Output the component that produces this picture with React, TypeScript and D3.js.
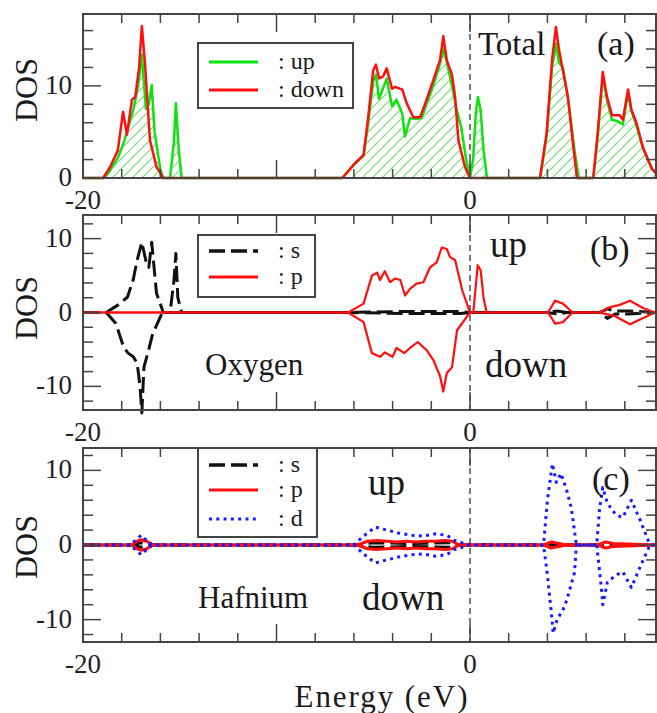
import { useEffect, useRef } from 'react'
import * as d3 from 'd3'

// ---- panel (a): total DOS ----
const totUpE = [-20, -18.9, -18.6, -18.2, -17.9, -17.4, -17.15, -16.96, -16.75, -16.6, -16.45, -16.3, -16.0, -15.85, -15.5, -15.3, -15.2, -15.05, -14.9, -6.6, -6.0, -5.5, -5.26, -5.0, -4.86, -4.7, -4.45, -4.3, -4.03, -3.8, -3.5, -3.36, -3.1, -2.8, -2.5, -2.2, -1.9, -1.55, -1.38, -1.2, -0.93, -0.7, -0.45, -0.2, 0, 0.16, 0.3, 0.41, 0.55, 0.7, 0.88, 3.62, 3.96, 4.24, 4.44, 4.6, 4.8, 5.0, 5.2, 5.4, 5.62, 6.37, 6.6, 6.86, 7.08, 7.34, 7.6, 7.9, 8.17, 8.34, 8.6, 8.94, 9.4, 9.7]
const totUpV = [0, 0, 0.8, 2.2, 3.8, 7.4, 10, 13.4, 7.5, 8, 10.1, 5, 0.9, 0, 0, 4, 8.1, 3, 0, 0, 1.5, 2.4, 6, 10.5, 11.2, 8.6, 10, 10.8, 7.8, 8.5, 7, 4.5, 6.5, 6.4, 6.5, 8.3, 10, 12.4, 14, 12.6, 10, 7.5, 5.5, 2, 0, 2, 7, 8.8, 7.4, 3, 0, 0, 4.5, 12, 14.6, 12.5, 12, 9.5, 6.5, 3, 0, 0, 4.5, 11, 8.5, 6.3, 6.2, 5.8, 9.3, 7.3, 5.7, 3.2, 1.0, 0.3]
const totDnE = [-20, -18.96, -18.6, -18.2, -17.93, -17.73, -17.47, -17.3, -17.1, -16.96, -16.8, -16.54, -16.2, -15.85, -6.6, -5.94, -5.5, -5.26, -5.0, -4.86, -4.7, -4.5, -4.3, -4.03, -3.86, -3.5, -3.27, -2.93, -2.58, -2.24, -1.9, -1.55, -1.38, -1.2, -0.93, -0.77, -0.6, -0.26, 0, 3.62, 3.96, 4.24, 4.44, 4.6, 4.8, 5.06, 5.3, 5.53, 6.37, 6.6, 6.86, 7.08, 7.34, 7.75, 7.9, 8.17, 8.34, 8.6, 8.94, 9.4, 9.7]
const totDnV = [0, 0, 1.2, 3, 7.2, 4.7, 8.5, 8.8, 12, 16.5, 12.5, 4.1, 1.2, 0, 0, 1.6, 2.5, 6.6, 11.7, 12.3, 10.8, 11, 11.9, 9.7, 9.9, 9.6, 8.1, 6.6, 6.6, 8.5, 10.6, 12.8, 15.4, 12.8, 11.2, 8.8, 4.1, 1.2, 0, 0, 4.9, 12.8, 16.4, 13.9, 11.7, 8.8, 4.1, 0, 0, 4.9, 11.5, 8.8, 6.8, 6.8, 6.3, 9.6, 7.4, 6.0, 3.3, 1.0, 0.3]

// ---- panel (b): oxygen ----
const oxSUpE = [-20, -18.8, -18.2, -17.7, -17.4, -17.2, -16.96, -16.75, -16.6, -16.45, -16.2, -15.85, -15.5, -15.3, -15.2, -15.1, -14.9, -6.5, -3, -0.5, 0, 4, 4.5, 5, 6.7, 7.1, 7.5, 8.2, 9.7]
const oxSUpV = [0, 0, 1.0, 2.1, 4.5, 7.1, 9.5, 7, 6.1, 9.5, 2.6, 0, 0, 4.3, 8, 2, 0, 0, 0.15, 0.15, 0, 0, 0.2, 0, 0, 0.5, 0.2, 0.2, 0]
const oxSDnE = [-20, -18.8, -18.3, -17.9, -17.67, -17.4, -17.2, -17.05, -16.96, -16.85, -16.6, -16.4, -15.9, -6.5, -3, -0.5, 0, 4, 4.5, 5, 6.7, 7.1, 7.5, 8.2, 9.7]
const oxSDnV = [0, 0, -1.5, -4.7, -5.5, -6, -6.9, -10, -13.6, -7.4, -5, -2.9, 0, 0, -0.15, -0.15, 0, 0, -0.2, 0, 0, -0.8, -0.2, -0.2, 0]
const oxPUpE = [-20, -6.3, -5.5, -5.07, -4.8, -4.65, -4.4, -4.13, -3.88, -3.6, -3.36, -3.1, -2.76, -2.41, -2.07, -1.72, -1.46, -1.2, -1.03, -0.77, -0.4, 0, 0.17, 0.4, 0.55, 0.7, 0.86, 4.03, 4.4, 4.8, 5.3, 6.7, 7.2, 7.7, 8.27, 8.94, 9.55, 9.7]
const oxPUpV = [0, 0, 1.2, 5, 5.4, 4.4, 5.6, 4.1, 4.6, 4.4, 2.3, 3.2, 3.9, 4.1, 6.1, 6.8, 8.8, 8.6, 7.5, 7.1, 3, 0, 0, 6.4, 5.7, 2, 0, 0, 1.6, 1.2, 0, 0, 0.7, 1.0, 1.6, 0.6, 0, 0]
const oxPDnE = [-20, -6.3, -5.5, -5.07, -4.65, -4.4, -4.0, -3.8, -3.4, -3.1, -2.7, -2.24, -1.9, -1.55, -1.38, -1.2, -0.93, -0.67, 0, 4.03, 4.4, 4.8, 5.3, 6.7, 7.5, 8.27, 8.9, 9.55, 9.7]
const oxPDnV = [0, 0, -1.3, -5.5, -6, -5.4, -6, -4.8, -5.5, -4.8, -4, -5.1, -6.4, -8.6, -10.7, -8.2, -7.4, -2.4, 0, 0, -1.5, -1.3, 0, 0, -0.5, -1.6, -0.8, 0, 0]

// ---- panel (c): hafnium ----
const hfSE = [-20, -17.5, -17.0, -16.5, -6, -5, -3, -1, -0.5, 4, 4.5, 5, 9.7]
const hfSUpV = [0, 0, 0.3, 0, 0, 0.3, 0.2, 0.3, 0, 0, 0.2, 0, 0]
const hfSDnV = [0, 0, -0.3, 0, 0, -0.3, -0.2, -0.3, 0, 0, -0.2, 0, 0]
const hfPE = [-20, -17.5, -17.2, -17.0, -16.7, -16.4, -5.8, -5.3, -4.8, -4.3, -3.8, -3.3, -2.8, -2.3, -1.8, -1.3, -0.9, -0.6, 3.8, 4.2, 4.6, 5.0, 6.6, 7.0, 7.4, 9.7]
const hfPUpV = [0, 0, 0.5, 0.7, 0.5, 0, 0, 0.5, 0.6, 0.5, 0.4, 0.5, 0.4, 0.5, 0.5, 0.6, 0.5, 0, 0, 0.4, 0.2, 0, 0, 0.4, 0.2, 0]
const hfPDnV = [0, 0, -0.5, -0.7, -0.5, 0, 0, -0.5, -0.6, -0.5, -0.4, -0.5, -0.4, -0.5, -0.5, -0.6, -0.5, 0, 0, -0.4, -0.2, 0, 0, -0.4, -0.2, 0]
const hfDUpE = [-20, -17.6, -17.2, -17.0, -16.8, -16.4, -6.0, -5.5, -4.9, -4.3, -3.7, -3.0, -2.4, -1.8, -1.2, -0.8, 0, 3.8, 4.0, 4.26, 4.46, 4.7, 5.0, 5.24, 5.5, 6.55, 6.7, 6.86, 7.1, 7.55, 7.9, 8.34, 8.8, 9.3, 9.7]
const hfDUpV = [0, 0, 0.8, 1.3, 0.8, 0, 0, 1.2, 2.4, 2.0, 1.6, 1.3, 1.2, 1.5, 1.3, 0.6, 0, 0, 6, 10.9, 8.4, 9.6, 7.3, 4.9, 0, 0, 5, 7.7, 5.6, 4, 3.7, 6, 3.3, 0, 0]
const hfDDnE = [-20, -17.6, -17.2, -17.0, -16.8, -16.4, -6.0, -5.5, -4.9, -4.3, -3.7, -3.0, -2.4, -1.8, -1.2, -0.8, 0, 3.8, 4.0, 4.2, 4.3, 4.5, 4.8, 5.0, 5.4, 5.5, 6.55, 6.8, 6.86, 7.1, 7.55, 7.9, 8.34, 8.8, 9.3, 9.7]
const hfDDnV = [0, 0, -0.8, -1.3, -0.8, 0, 0, -1.2, -2.4, -2.0, -1.6, -1.3, -1.2, -1.5, -1.3, -0.6, 0, 0, -4, -9, -11.8, -10, -8.7, -7.4, -3.7, 0, 0, -6, -8, -5, -4, -3.6, -5.7, -2.9, 0, 0]

// tick labels
const xLabelTicks = [-20, 0]
const xMajorTicks = [-20, -10, 0]
const yLabelsA = [0, 10]
const yLabelsBC = [-10, 0, 10]

const FONT = 'Liberation Serif, DejaVu Serif, Times New Roman, serif'
const GREEN = '#11e011'
const RED = '#ff1010'
const BLUE = '#1a1aff'

const App = () => {
  const chart = useRef(null)

  const draw = () => {
    const W = 657, H = 713
    const left = 83, zeroX = 470, right = 656
    d3.select(chart.current).selectAll('*').remove()
    const svg = d3.select(chart.current)
      .append('svg')
      .attr('width', W)
      .attr('height', H)
      .style('position', 'absolute')
      .style('left', 0)
      .style('top', 0)
      .style('background', '#fff')
      .style('font-family', FONT)

    const defs = svg.append('defs')
    defs.append('pattern')
      .attr('id', 'hatch')
      .attr('patternUnits', 'userSpaceOnUse')
      .attr('width', 10).attr('height', 10)
      .append('path')
      .attr('d', 'M-1,1 L1,-1 M0,10 L10,0 M9,11 L11,9')
      .attr('stroke', '#6fdc6f')
      .attr('stroke-width', 1.1)

    const x = d3.scaleLinear().domain([-20, 0]).range([left, zeroX])
    const xMax = x.invert(right)

    const line = (y) => d3.line().x(d => x(d[0])).y(d => y(d[1]))
    const pts = (e, v) => e.map((d, i) => [d, v[i]])

    const drawPanel = (top, bottom, yDom, yLabels, curves, hatch) => {
      const y = d3.scaleLinear().domain(yDom).range([bottom, top])
      const g = svg.append('g')

      if (hatch) {
        g.append('path')
          .datum(pts(hatch[0], hatch[1]))
          .attr('fill', 'url(#hatch)')
          .attr('d', d3.area().x(d => x(d[0])).y0(y(0)).y1(d => y(d[1])))
      }

      // zero energy dashed line
      g.append('line')
        .attr('x1', x(0)).attr('x2', x(0))
        .attr('y1', top).attr('y2', bottom)
        .attr('stroke', '#222').attr('stroke-width', 1.2)
        .attr('stroke-dasharray', '6,4')

      curves.forEach(c => {
        g.append('path')
          .datum(pts(c.e, c.v))
          .attr('fill', 'none')
          .attr('stroke', c.color)
          .attr('stroke-width', c.width)
          .attr('stroke-dasharray', c.dash || null)
          .attr('stroke-linejoin', 'round')
          .attr('d', line(y))
      })

      // frame
      g.append('rect')
        .attr('x', left).attr('y', top)
        .attr('width', right - left).attr('height', bottom - top)
        .attr('fill', 'none').attr('stroke', '#444').attr('stroke-width', 2)

      // x ticks (top & bottom, inward)
      d3.range(-20, xMax, 2).forEach(t => {
        const len = xMajorTicks.includes(t) ? 18 : 9
        ;[[bottom, -len], [top, len]].forEach(([b, l]) => {
          g.append('line')
            .attr('x1', x(t)).attr('x2', x(t))
            .attr('y1', b).attr('y2', b + l)
            .attr('stroke', '#444').attr('stroke-width', 1.5)
        })
      })
      xLabelTicks.forEach(t => {
        g.append('text')
          .attr('x', x(t)).attr('y', bottom + 31)
          .attr('text-anchor', 'middle')
          .attr('font-size', 27)
          .attr('fill', '#222')
          .text(t)
      })

      // y ticks (left & right, inward)
      const yTicks = d3.range(Math.ceil(yDom[0] / 2) * 2, yDom[1], 2)
      yTicks.forEach(t => {
        const len = t % 10 === 0 ? 18 : 10
        ;[[left, len], [right, -len]].forEach(([b, l]) => {
          g.append('line')
            .attr('x1', b).attr('x2', b + l)
            .attr('y1', y(t)).attr('y2', y(t))
            .attr('stroke', '#444').attr('stroke-width', 1.5)
        })
      })
      yLabels.forEach(t => {
        g.append('text')
          .attr('x', 72).attr('y', y(t) + 8)
          .attr('text-anchor', 'end')
          .attr('font-size', 27)
          .attr('fill', '#222')
          .text(t)
      })

      return y
    }

    const addText = (tx, ty, str, size, anchor = 'start') => {
      svg.append('text')
        .attr('x', tx).attr('y', ty)
        .attr('text-anchor', anchor)
        .attr('font-size', size)
        .attr('fill', '#1a1a1a')
        .text(str)
    }

    const dos = (cy) => {
      svg.append('text')
        .attr('transform', `translate(37,${cy}) rotate(-90)`)
        .attr('text-anchor', 'middle')
        .attr('font-size', 32)
        .attr('fill', '#1a1a1a')
        .text('DOS')
    }

    const legend = (bx, by, bw, bh, items) => {
      svg.append('rect')
        .attr('x', bx).attr('y', by).attr('width', bw).attr('height', bh)
        .attr('fill', '#fff').attr('stroke', '#444').attr('stroke-width', 2)
      items.forEach(it => {
        svg.append('line')
          .attr('x1', bx + 11).attr('x2', bx + 60)
          .attr('y1', it.y).attr('y2', it.y)
          .attr('stroke', it.color).attr('stroke-width', it.width)
          .attr('stroke-dasharray', it.dash || null)
        addText(bx + 80, it.y + 7, it.label, 24)
      })
    }

    // ---- (a) ----
    drawPanel(14, 178, [0, 17.8], yLabelsA, [
      { e: totUpE, v: totUpV, color: GREEN, width: 2.5 },
      { e: totDnE, v: totDnV, color: RED, width: 2.5 }
    ], [totUpE, totUpV])
    legend(198, 43, 155, 65, [
      { y: 62, color: GREEN, width: 3, label: ': up' },
      { y: 90, color: RED, width: 3, label: ': down' }
    ])
    addText(478, 55, 'Total', 33)
    addText(597, 55, '(a)', 34)
    dos(90)

    // ---- (b) ----
    const sDash = '16,6'
    drawPanel(215, 410, [-13.2, 13.2], yLabelsBC, [
      { e: oxSUpE, v: oxSUpV, color: '#111', width: 3, dash: sDash },
      { e: oxSDnE, v: oxSDnV, color: '#111', width: 3, dash: sDash },
      { e: oxPUpE, v: oxPUpV, color: RED, width: 2.2 },
      { e: oxPDnE, v: oxPDnV, color: RED, width: 2.2 }
    ])
    legend(198, 235, 117, 62, [
      { y: 251, color: '#111', width: 3.5, dash: sDash, label: ': s' },
      { y: 277, color: RED, width: 3, label: ': p' }
    ])
    addText(590, 260, '(b)', 34)
    addText(490, 257, 'up', 37)
    addText(485, 377, 'down', 37)
    addText(205, 375, 'Oxygen', 31)
    dos(308)

    // ---- (c) ----
    const dDot = '3,4.3'
    drawPanel(448, 642, [-13, 13], yLabelsBC, [
      { e: hfSE, v: hfSUpV, color: '#111', width: 3, dash: sDash },
      { e: hfSE, v: hfSDnV, color: '#111', width: 3, dash: sDash },
      { e: hfPE, v: hfPUpV, color: RED, width: 3 },
      { e: hfPE, v: hfPDnV, color: RED, width: 3 },
      { e: hfDUpE, v: hfDUpV, color: BLUE, width: 3, dash: dDot },
      { e: hfDDnE, v: hfDDnV, color: BLUE, width: 3, dash: dDot }
    ])
    legend(198, 448, 119, 89, [
      { y: 465, color: '#111', width: 3.5, dash: sDash, label: ': s' },
      { y: 490, color: RED, width: 3, label: ': p' },
      { y: 519, color: BLUE, width: 3, dash: dDot, label: ': d' }
    ])
    addText(592, 490, '(c)', 34)
    addText(368, 495, 'up', 37)
    addText(362, 610, 'down', 37)
    addText(198, 608, 'Hafnium', 31)
    dos(547)

    svg.append('text')
      .attr('x', 381).attr('y', 707)
      .attr('text-anchor', 'middle')
      .attr('font-size', 31)
      .attr('textLength', 173).attr('lengthAdjust', 'spacing')
      .attr('fill', '#1a1a1a')
      .text('Energy (eV)')
  }

  useEffect(() => {
    draw()
  }, [])

  return (
    <>
      <div ref={chart}></div>
    </>
  )
}

export default App
